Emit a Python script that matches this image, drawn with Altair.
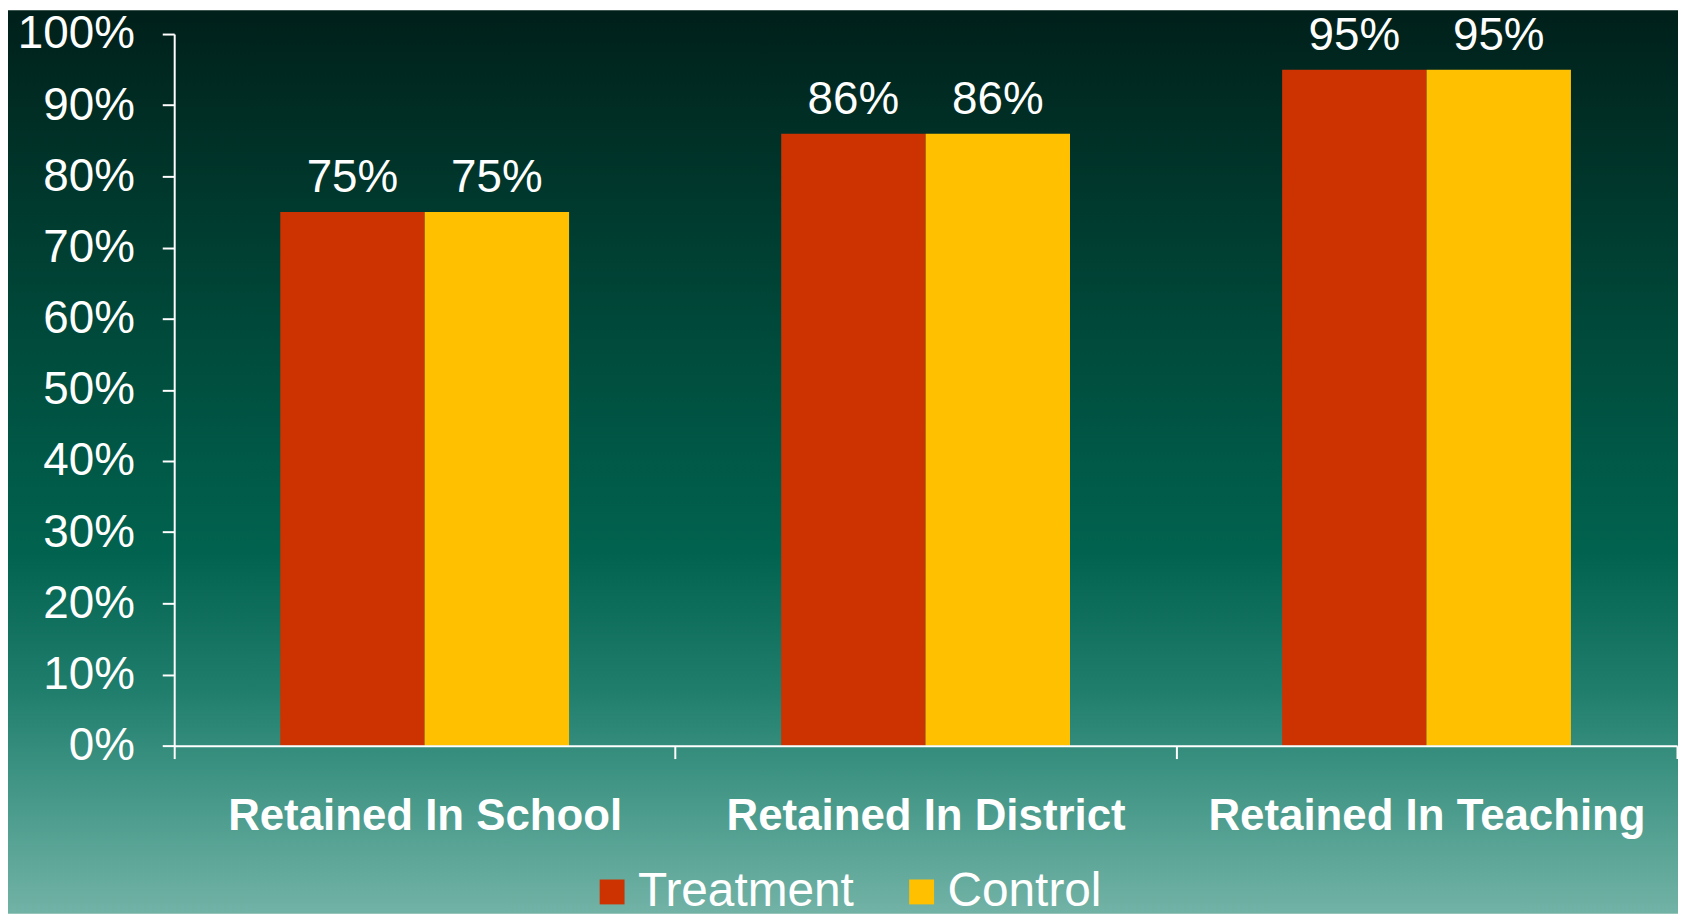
import altair as alt
import pandas as pd

categories = ["Retained In School", "Retained In District", "Retained In Teaching"]
groups = ["Treatment", "Control"]
treatment = [0.75, 0.86, 0.95]
control = [0.75, 0.86, 0.95]
colors = ["#CC3300", "#FFC000"]
y_ticks = [0, 0.1, 0.2, 0.3, 0.4, 0.5, 0.6, 0.7, 0.8, 0.9, 1.0]

rows = []
for c, t, k in zip(categories, treatment, control):
    rows.append({"category": c, "group": "Treatment", "value": t})
    rows.append({"category": c, "group": "Control", "value": k})
df = pd.DataFrame(rows)

W, H = 1510, 715
PL, PT, PR, PB = 167, 24, 1, 169
FONT = "Liberation Sans"

gradient = alt.LinearGradient(
    gradient="linear", x1=0, y1=0, x2=0, y2=1,
    stops=[
        alt.GradientStop(offset=0.0, color="#00201a"),
        alt.GradientStop(offset=0.35, color="#00493a"),
        alt.GradientStop(offset=0.6, color="#01634f"),
        alt.GradientStop(offset=0.75, color="#1f7d6c"),
        alt.GradientStop(offset=0.85, color="#3f9484"),
        alt.GradientStop(offset=1.0, color="#72b3a6"),
    ],
)

bg = alt.Chart(pd.DataFrame({"k": [0]})).mark_rect(color=gradient).encode(
    x=alt.value(-PL), x2=alt.value(W + PR), y=alt.value(-PT), y2=alt.value(H + PB)
)

x_enc = alt.X(
    "category:N", sort=categories,
    scale=alt.Scale(paddingInner=0, paddingOuter=0),
    axis=alt.Axis(
        title=None, labelAngle=0, tickBand="extent", labelFontSize=44,
        labelFontWeight="bold", labelFont=FONT, labelColor="white",
        tickColor="white", tickWidth=2, tickSize=13, domainColor="white",
        domainWidth=2, labelPadding=36, zindex=2, labelLimit=0,
    ),
)
xo_enc = alt.XOffset("group:N", sort=groups, scale=alt.Scale(paddingOuter=0.7345, paddingInner=0))
y_enc = alt.Y(
    "value:Q", scale=alt.Scale(domain=[0, 1]),
    axis=alt.Axis(
        title=None, format="%", values=y_ticks, grid=False, labelFontSize=46,
        labelFont=FONT, labelColor="white", tickColor="white", tickWidth=2,
        tickSize=12, domainColor="white", domainWidth=2, labelPadding=28, zindex=2,
    ),
)

bars = alt.Chart(df).mark_bar().encode(
    x=x_enc, xOffset=xo_enc, y=y_enc,
    color=alt.Color(
        "group:N", sort=groups, scale=alt.Scale(domain=groups, range=colors),
        legend=alt.Legend(
            title=None, orient="none", legendX=416, legendY=838, direction="horizontal",
            symbolType="square", symbolSize=625, symbolStrokeWidth=0, symbolOpacity=1,
            labelFontSize=48, labelFont=FONT, labelColor="white", labelOffset=2,
            columnPadding=44, padding=0, labelLimit=0,
        ),
    ),
)

labels = alt.Chart(df).mark_text(
    dy=-20, baseline="alphabetic", fontSize=46, font=FONT, color="white"
).encode(x=x_enc, xOffset=xo_enc, y=y_enc, text=alt.Text("value:Q", format=".0%"))

chart = alt.layer(bg, bars, labels).properties(
    width=W, height=H,
    autosize=alt.AutoSizeParams(type="none"),
    padding={"left": PL, "top": PT, "right": PR, "bottom": PB},
).configure_view(stroke=None)

chart.save("out.html", embed_options={"renderer": "svg", "actions": False})
